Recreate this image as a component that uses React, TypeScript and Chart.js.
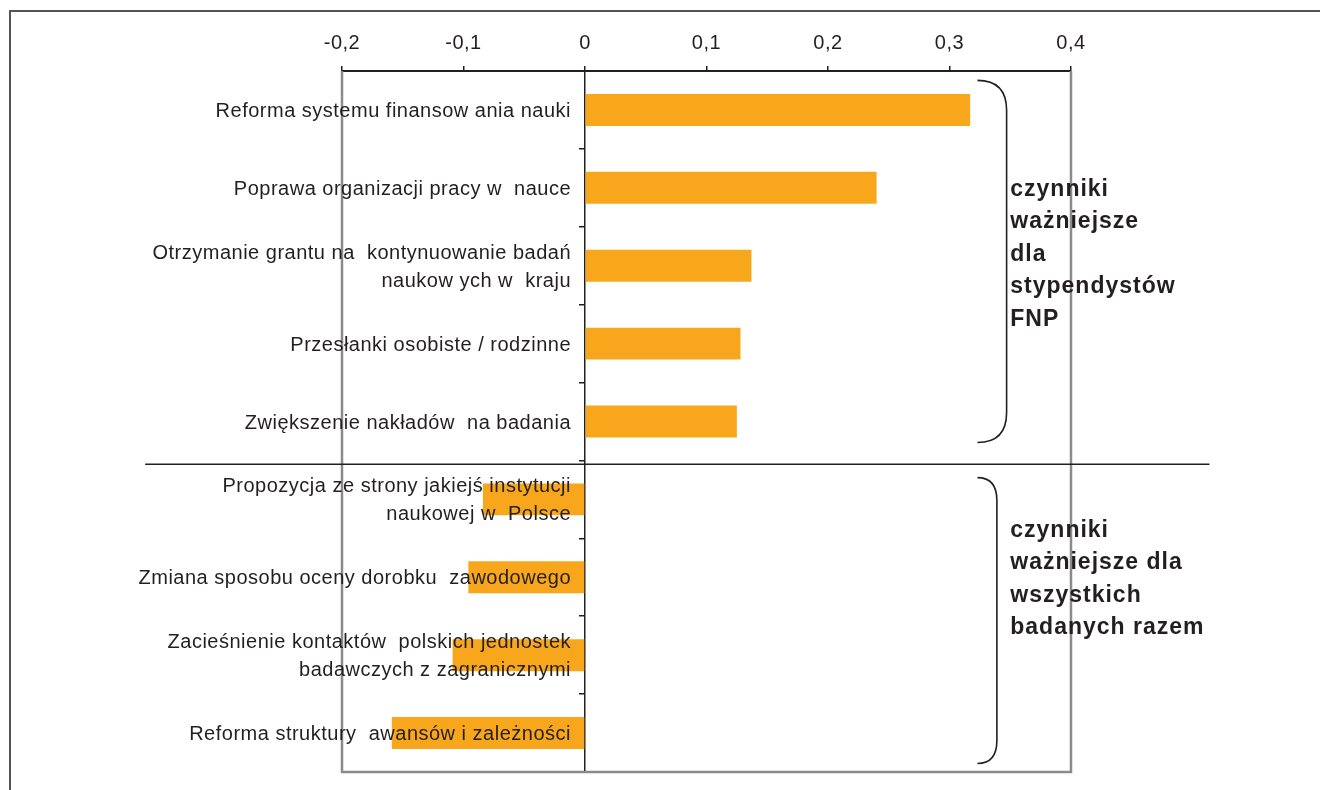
import React, { useEffect, useRef } from 'react';
import { Chart, registerables } from 'chart.js';

Chart.register(...registerables);

// Category labels (multi-line where the label wraps)
const categories: string[][] = [
  ['Reforma systemu finansow ania nauki'],
  ['Poprawa organizacji pracy w  nauce'],
  ['Otrzymanie grantu na  kontynuowanie badań', 'naukow ych w  kraju'],
  ['Przesłanki osobiste / rodzinne'],
  ['Zwiększenie nakładów  na badania'],
  ['Propozycja ze strony jakiejś instytucji', 'naukowej w  Polsce'],
  ['Zmiana sposobu oceny dorobku  zawodowego'],
  ['Zacieśnienie kontaktów  polskich jednostek', 'badawczych z zagranicznymi'],
  ['Reforma struktury  awansów i zależności'],
];

// Difference in importance (positive: more important for FNP fellows)
const values: number[] = [0.317, 0.24, 0.137, 0.128, 0.125, -0.084, -0.096, -0.109, -0.159];

const xTicks: number[] = [-0.2, -0.1, 0, 0.1, 0.2, 0.3, 0.4];
const xMin = -0.2;
const xMax = 0.4;

// Group notes shown next to the braces
const upperNote: string[] = ['czynniki', 'ważniejsze', 'dla', 'stypendystów', 'FNP'];
const lowerNote: string[] = ['czynniki', 'ważniejsze dla', 'wszystkich', 'badanych razem'];

// Brace extents in category units, tip/spine in value units
const braces = [
  { from: -0.38, to: 4.27, tip: 0.323, spine: 0.347, bend: 30, note: upperNote, noteAt: 1.1 },
  { from: 4.72, to: 8.39, tip: 0.323, spine: 0.339, bend: 23, note: lowerNote, noteAt: 5.48 },
];
const noteX = 0.35;
const dividerAt = 4.55;
const dividerFrom = -0.362;
const dividerTo = 0.514;

const INK = '#231f20';
const FONT = '"Liberation Sans", Arial, sans-serif';

const fmt = (v: number) => (Math.abs(v) < 1e-9 ? '0' : v.toFixed(1).replace('.', ','));

const overlay = {
  id: 'overlay',
  beforeDraw(chart: any) {
    chart.ctx.letterSpacing = '0.5px';
  },
  beforeDatasetsDraw(chart: any) {
    const { ctx, chartArea } = chart;
    const { left, right, top, bottom } = chartArea;
    ctx.save();
    ctx.strokeStyle = '#8b8b8d';
    ctx.lineWidth = 2.5;
    ctx.beginPath();
    ctx.moveTo(left, top);
    ctx.lineTo(left, bottom);
    ctx.lineTo(right, bottom);
    ctx.lineTo(right, top);
    ctx.stroke();
    ctx.restore();
  },
  afterDatasetsDraw(chart: any) {
    const { ctx } = chart;
    const xs = chart.scales.x;
    const ys = chart.scales.y;
    ctx.save();

    // category labels, right-aligned against the zero line
    ctx.letterSpacing = '0.5px';
    const x0 = xs.getPixelForValue(0) - 14;
    ctx.font = `20px ${FONT}`;
    ctx.fillStyle = INK;
    ctx.textAlign = 'right';
    ctx.textBaseline = 'middle';
    categories.forEach((lines, i) => {
      const cy = ys.getPixelForValue(i) + 1.5;
      lines.forEach((t, j) => {
        ctx.fillText(t, x0, cy + (j - (lines.length - 1) / 2) * 28);
      });
    });

    // divider between the two groups
    const dy = ys.getPixelForValue(dividerAt);
    ctx.strokeStyle = INK;
    ctx.lineWidth = 1.5;
    ctx.beginPath();
    ctx.moveTo(xs.getPixelForValue(dividerFrom), dy);
    ctx.lineTo(xs.getPixelForValue(dividerTo), dy);
    ctx.stroke();

    // braces and their notes
    ctx.letterSpacing = '1px';
    braces.forEach((b) => {
      const xt = xs.getPixelForValue(b.tip);
      const xp = xs.getPixelForValue(b.spine);
      const y1 = ys.getPixelForValue(b.from);
      const y2 = ys.getPixelForValue(b.to);
      const r = b.bend;
      ctx.lineWidth = 1.6;
      ctx.beginPath();
      ctx.moveTo(xt, y1);
      ctx.bezierCurveTo(xt + (xp - xt) * 0.7, y1, xp, y1 + r * 0.35, xp, y1 + r);
      ctx.lineTo(xp, y2 - r);
      ctx.bezierCurveTo(xp, y2 - r * 0.35, xt + (xp - xt) * 0.7, y2, xt, y2);
      ctx.stroke();

      ctx.font = `bold 23px ${FONT}`;
      ctx.textAlign = 'left';
      ctx.textBaseline = 'alphabetic';
      const nx = xs.getPixelForValue(noteX);
      const ny = ys.getPixelForValue(b.noteAt);
      b.note.forEach((t, j) => ctx.fillText(t, nx, ny + j * 32.5));
    });
    ctx.restore();
  },
  afterDraw(chart: any) {
    chart.ctx.letterSpacing = '0px';
  },
};

export default function App() {
  const ref = useRef<HTMLCanvasElement>(null);

  useEffect(() => {
    const canvas = ref.current;
    if (!canvas) return;
    const chart = new Chart(canvas, {
      type: 'bar',
      data: {
        labels: categories.map((c) => c.join(' ')),
        datasets: [
          {
            data: values,
            backgroundColor: '#F8A61C',
            borderWidth: 0,
            barPercentage: 0.41,
            categoryPercentage: 1,
          },
        ],
      },
      options: {
        indexAxis: 'y',
        responsive: false,
        maintainAspectRatio: false,
        animation: false,
        layout: { padding: { left: 342, right: 249, top: 11, bottom: 18 } },
        plugins: { legend: { display: false }, tooltip: { enabled: false } },
        scales: {
          x: {
            type: 'linear',
            position: 'top',
            min: xMin,
            max: xMax,
            afterBuildTicks: (s: any) => {
              s.ticks = xTicks.map((v) => ({ value: v }));
            },
            afterFit: (s: any) => {
              s.height = 60;
            },
            ticks: {
              color: INK,
              padding: 11,
              font: { family: FONT, size: 20 },
              callback: (v: any) => fmt(Number(v)),
            },
            grid: {
              drawOnChartArea: false,
              drawTicks: true,
              tickLength: 5,
              color: INK,
              lineWidth: 1.5,
            },
            border: { display: true, color: INK, width: 2 },
          },
          y: {
            type: 'category',
            position: { x: 0 } as any,
            z: 1,
            afterFit: (s: any) => {
              s.width = 0;
            },
            ticks: { display: false },
            grid: {
              drawOnChartArea: false,
              drawTicks: true,
              tickLength: 5,
              color: INK,
              lineWidth: 1.5,
              offset: true,
            },
            border: { display: true, color: INK, width: 1.5 },
          },
        },
      },
      plugins: [overlay],
    } as any);
    return () => chart.destroy();
  }, []);

  return (
    <div style={{ position: 'absolute', left: 0, top: 0, width: 1320, height: 790, background: '#fff', overflow: 'hidden' }}>
      <div
        style={{
          position: 'absolute',
          left: 9,
          top: 10,
          right: 0,
          bottom: 0,
          borderTop: '2px solid #555',
          borderLeft: '2px solid #555',
        }}
      />
      <canvas
        ref={ref}
        width={1320}
        height={790}
        style={{ position: 'absolute', left: 0, top: 0, width: 1320, height: 790 }}
      />
    </div>
  );
}
